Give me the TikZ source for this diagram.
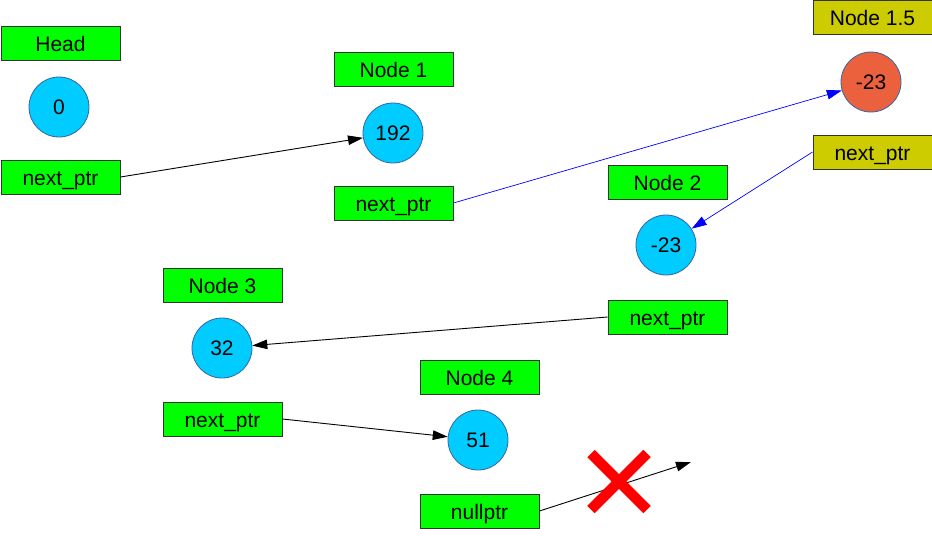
\documentclass[tikz,border=0pt]{standalone}
\usepackage{fontspec}
\setmainfont{Liberation Sans}
\usetikzlibrary{arrows.meta,calc}
\definecolor{boxgreen}{HTML}{00FF00}
\definecolor{boxolive}{HTML}{CCCC00}
\definecolor{ballcyan}{HTML}{00CCFF}
\definecolor{ballred}{HTML}{EC613D}
\definecolor{ballrim}{HTML}{3465A4}
\definecolor{crossred}{HTML}{FF0000}
\begin{document}
\begin{tikzpicture}[x=1pt,y=-1pt,
  every node/.style={font=\fontsize{21}{24}\selectfont, inner sep=0pt,
    text height=20pt, text depth=4pt},
  label box/.style={draw=black!80, line width=0.9pt, fill=boxgreen,
    minimum width=119pt, minimum height=34pt},
  olive box/.style={label box, fill=boxolive},
  ball/.style={circle, draw=ballrim, line width=0.8pt, fill=ballcyan,
    minimum size=60pt, text height=19pt, text depth=4.4pt},
  red ball/.style={ball, fill=ballred},
  link/.style={line width=0.9pt, -{Triangle[length=15pt,width=9.5pt]}},
  blue link/.style={link, draw=blue, line width=0.7pt}]
\useasboundingbox (0,0) rectangle (932,536);

% head
\node[label box] (headlbl) at (60.5,43) {Head};
\node[ball] (headval) at (59,107) {0};
\node[label box] (headptr) at (60.5,177) {next\_ptr};

% node 1
\node[label box] (n1lbl) at (393.5,69) {Node 1};
\node[ball] (n1val) at (393,133) {192};
\node[label box] (n1ptr) at (393.5,203) {next\_ptr};

% node 1.5 (inserted)
\node[olive box] (n15lbl) at (872.5,17) {Node 1.5};
\node[red ball] (n15val) at (871,82) {-23};
\node[olive box] (n15ptr) at (872.5,152) {next\_ptr};

% node 2
\node[label box] (n2lbl) at (667.5,182) {Node 2};
\node[ball] (n2val) at (666,245) {-23};
\node[label box] (n2ptr) at (667.5,317) {next\_ptr};

% node 3
\node[label box] (n3lbl) at (222.5,285) {Node 3};
\node[ball] (n3val) at (222,348) {32};
\node[label box] (n3ptr) at (222.5,419) {next\_ptr};

% node 4
\node[label box] (n4lbl) at (479.5,377) {Node 4};
\node[ball] (n4val) at (478,440) {51};
\node[label box] (n4ptr) at (479.5,511) {nullptr};

\coordinate (nowhere) at (691,462);

% links
\draw[link] (headptr.east) -- (n1val);
\draw[blue link] (n1ptr.east) -- (n15val);
\draw[blue link] (n15ptr.west) -- (n2val);
\draw[link] (n2ptr.west) -- (n3val);
\draw[link] (n3ptr.east) -- (n4val);
\draw[link] (n4ptr.east) -- (nowhere);

% broken link mark
\coordinate (crossc) at (619,481.5);
\draw[crossred, line width=10.5pt]
  ($(crossc)+(-28,-28)$) -- ($(crossc)+(28,28)$)
  ($(crossc)+(28,-28)$) -- ($(crossc)+(-28,28)$);
\end{tikzpicture}
\end{document}
